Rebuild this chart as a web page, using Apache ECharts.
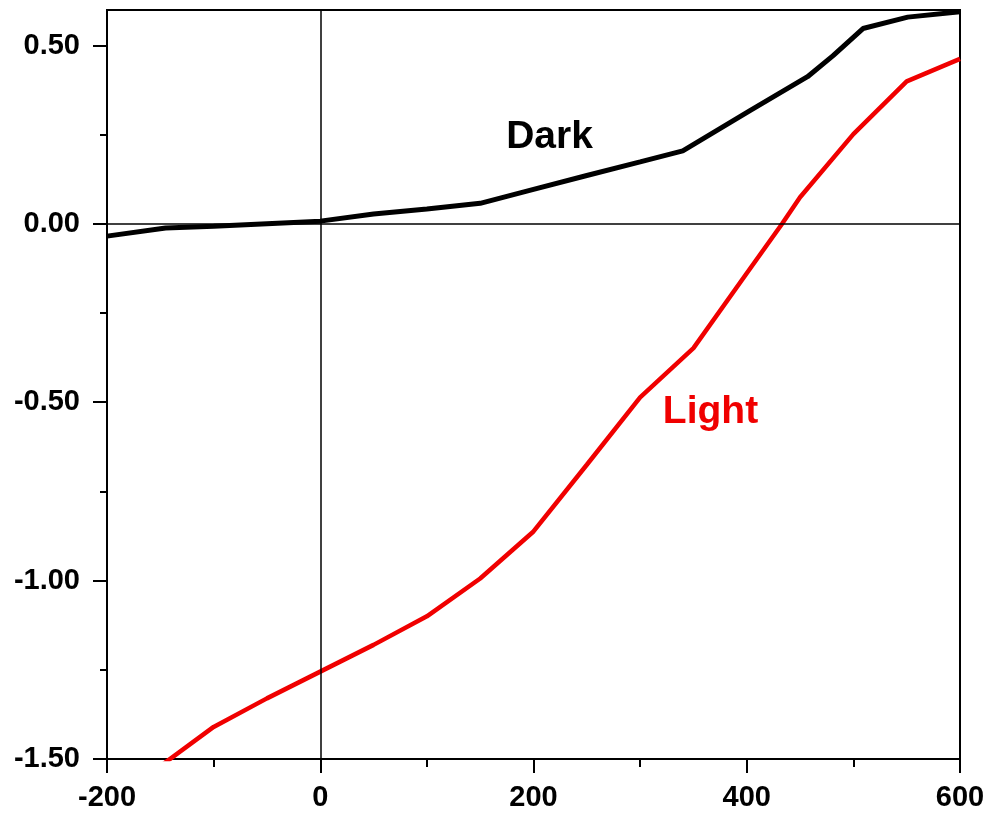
<!DOCTYPE html>
<html>
<head>
<meta charset="utf-8">
<script src="https://cdn.jsdelivr.net/npm/echarts@6/dist/echarts.min.js"></script>
<style>html,body{margin:0;padding:0;background:#fff;}#c{width:990px;height:817px;}</style>
</head>
<body>
<div id="c"></div>
<script>
// Data
const darkX = [-200, -145, -100, -50, 0, 50, 100, 150, 200, 250, 300, 340, 403, 457, 481, 509, 551, 600];
const darkY = [-0.034, -0.011, -0.006, 0.001, 0.008, 0.028, 0.042, 0.058, 0.097, 0.136, 0.174, 0.205, 0.318, 0.413, 0.472, 0.548, 0.580, 0.595];
const lightX = [-150, -100, -50, 0, 50, 100, 150, 200, 250, 300, 350, 400, 433, 450, 500, 550, 600];
const lightY = [-1.52, -1.41, -1.33, -1.255, -1.18, -1.10, -0.994, -0.862, -0.675, -0.486, -0.348, -0.138, 0.0, 0.075, 0.252, 0.40, 0.463];
const yMajorTicks = [-1.5, -1.0, -0.5, 0.0, 0.5];
const yMinorTicks = [-1.25, -0.75, -0.25, 0.25];
const darkLabel = {text: 'Dark', x: 215, y: 0.243};
const lightLabel = {text: 'Light', x: 366, y: -0.527};

const pair = (xs, ys) => xs.map((x, i) => [x, ys[i]]);
const FONT = '"Liberation Sans", Arial, sans-serif';
const X_MIN = -200, X_MAX = 600, Y_MIN = -1.5, Y_MAX = 0.6;
const isMajor = v => Math.abs(v * 2 - Math.round(v * 2)) < 1e-6;

const chart = echarts.init(document.getElementById('c'), null, {renderer: 'canvas'});
chart.setOption({
  animation: false,
  grid: {left: 107, right: 30, top: 10, bottom: 58, show: true, borderColor: '#000', borderWidth: 2, containLabel: false},
  xAxis: {
    type: 'value', min: X_MIN, max: X_MAX, interval: 200,
    axisLine: {show: true, onZero: false, lineStyle: {color: '#000', width: 2}},
    axisTick: {show: true, length: 14, lineStyle: {color: '#000', width: 2}},
    minorTick: {show: true, splitNumber: 2, length: 8, lineStyle: {color: '#000', width: 2}},
    splitLine: {show: false},
    axisLabel: {color: '#000', fontFamily: FONT, fontWeight: 'bold', fontSize: 29, margin: 24}
  },
  yAxis: {
    type: 'value', min: Y_MIN, max: Y_MAX, interval: 0.5, position: 'left',
    axisLine: {show: true, onZero: false, lineStyle: {color: '#000', width: 2}},
    axisTick: {show: false},
    minorTick: {show: false},
    splitLine: {show: false},
    axisLabel: {color: '#000', fontFamily: FONT, fontWeight: 'bold', fontSize: 29, margin: 27,
      backgroundColor: 'transparent', padding: 0,
      showMaxLabel: false, formatter: v => isMajor(v) ? v.toFixed(2) : ''}
  },
  series: [{
    name: 'Dark', type: 'line', data: pair(darkX, darkY), showSymbol: false, symbol: 'none',
    lineStyle: {color: '#000', width: 5}, z: 3,
    markLine: {silent: true, symbol: 'none', label: {show: false},
      lineStyle: {color: '#000', width: 1.5, type: 'solid'},
      data: [{xAxis: 0}, {yAxis: 0}]},
    markPoint: {symbol: 'circle', symbolSize: 0, silent: true,
      label: {show: true, formatter: darkLabel.text, color: '#000', fontFamily: FONT, fontWeight: 'bold', fontSize: 39, position: 'inside'},
      data: [{coord: [darkLabel.x, darkLabel.y]}]}
  }, {
    name: 'Light', type: 'line', data: pair(lightX, lightY), showSymbol: false, symbol: 'none',
    lineStyle: {color: '#f00000', width: 4.5}, z: 3,
    markPoint: {symbol: 'circle', symbolSize: 0, silent: true,
      label: {show: true, formatter: lightLabel.text, color: '#f00000', fontFamily: FONT, fontWeight: 'bold', fontSize: 39, position: 'inside'},
      data: [{coord: [lightLabel.x, lightLabel.y]}]}
  }]
});

// Y-axis ticks, placed through the axis scale, drawn on a top layer
const gx = Math.round(chart.convertToPixel({xAxisIndex: 0}, X_MIN));
const tickEls = [];
const addTick = (v, len) => {
  const y = Math.round(chart.convertToPixel({yAxisIndex: 0}, v));
  tickEls.push({type: 'rect', silent: true, z: 100, zlevel: 5,
    shape: {x: gx - len, y: y - 1, width: len, height: 2},
    style: {fill: '#000'}});
};
yMajorTicks.forEach(v => addTick(v, 14));
yMinorTicks.forEach(v => addTick(v, 7));
chart.setOption({graphic: {elements: tickEls}});
</script>
</body>
</html>
